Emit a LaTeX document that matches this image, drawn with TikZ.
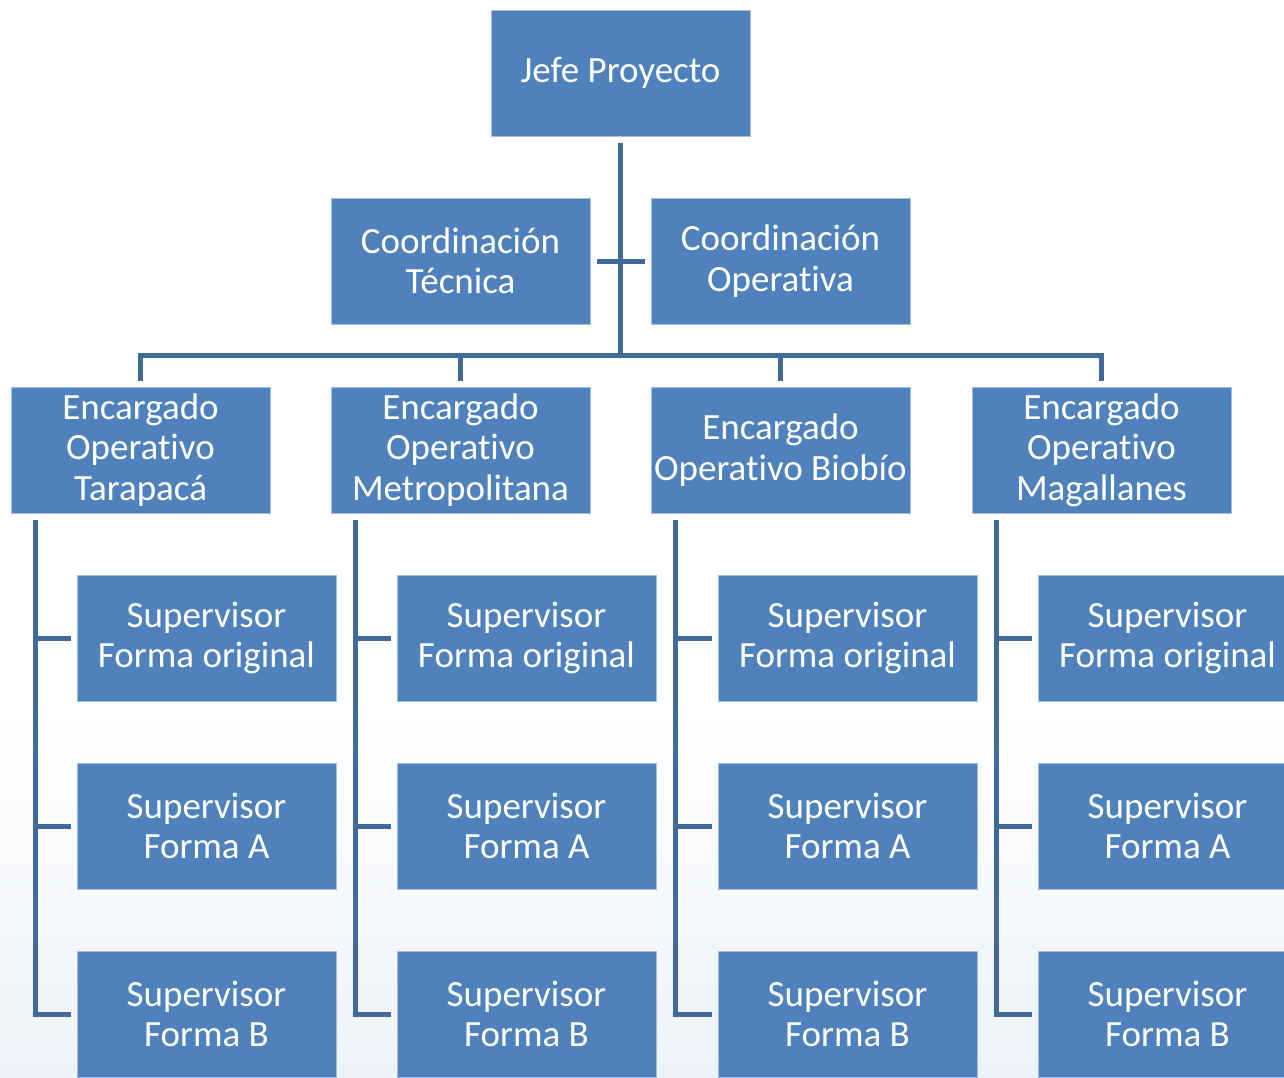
\documentclass[tikz,border=0pt]{standalone}
\usepackage{fontspec}
\setmainfont[Ligatures={NoCommon,NoDiscretionary,NoRare}]{Carlito}
\definecolor{boxfill}{HTML}{4F81BD}
\definecolor{boxline}{HTML}{A5BEDF}
\definecolor{conncol}{HTML}{41699A}
\definecolor{bgblue}{HTML}{EDF2F8}
\newcommand{\ti}{t\kern0pt i}
\begin{document}
\begin{tikzpicture}[x=1pt,y=1pt,
  orgbox/.style={draw=boxline, line width=1pt, fill=boxfill, text=white,
    minimum width=259pt, minimum height=126pt, inner sep=0pt, align=center,
    font=\fontsize{37}{40.5}\selectfont},
  conn/.style={draw=conncol, line width=5pt, line join=miter}]
\useasboundingbox (0,0) rectangle (1284,-1077);
\clip (0,0) rectangle (1284,-1077);
\shade[top color=white, bottom color=bgblue] (0,-700) rectangle (1284,-1077);
% top
\node[orgbox] (jefe) at (620.5,-73) {\raisebox{-2pt}{Jefe Proyecto}};
\node[orgbox] (ct) at (460.5,-261) {Coordinación\\Técnica};
\node[orgbox] (co) at (780.5,-261) {Coordinación\\Opera\ti va};
% encargados
\node[orgbox] (e1) at (140.5,-450) {Encargado\\Opera\ti vo\\Tarapacá};
\node[orgbox] (e2) at (460.5,-450) {Encargado\\Opera\ti vo\\Metropolitana};
\node[orgbox] (e3) at (780.5,-450) {Encargado\\Opera\ti vo Biobío};
\node[orgbox] (e4) at (1101.5,-450) {Encargado\\Opera\ti vo\\Magallanes};
% supervisors
\foreach \i/\x in {1/206.5, 2/526.5, 3/847.5, 4/1167.5} {
  \node[orgbox] (s\i a) at (\x,-638) {Supervisor\\Forma original};
  \node[orgbox] (s\i b) at (\x,-826) {Supervisor\\Forma A};
  \node[orgbox] (s\i c) at (\x,-1014) {Supervisor\\Forma B};
}
% connectors top
\coordinate (busY) at (0,-355);
\draw[conn] ([yshift=-6pt]jefe.south) -- (jefe.south |- busY);
\draw[conn] ([xshift=6pt]ct.east) -- ([xshift=-6pt]co.west);
\draw[conn] ([yshift=6pt]e1.north) -- (e1.north |- busY) -- (e4.north |- busY) -- ([yshift=6pt]e4.north);
\draw[conn] ([yshift=6pt]e2.north) -- (e2.north |- busY);
\draw[conn] ([yshift=6pt]e3.north) -- (e3.north |- busY);
% branches
\foreach \i in {1,2,3,4} {
  \coordinate (t\i) at ([xshift=-105.5pt,yshift=-6pt]e\i.south);
  \draw[conn] (t\i) |- ([xshift=-6pt]s\i c.west);
  \draw[conn] (t\i |- s\i a.west) -- ([xshift=-6pt]s\i a.west);
  \draw[conn] (t\i |- s\i b.west) -- ([xshift=-6pt]s\i b.west);
}
\end{tikzpicture}
\end{document}
